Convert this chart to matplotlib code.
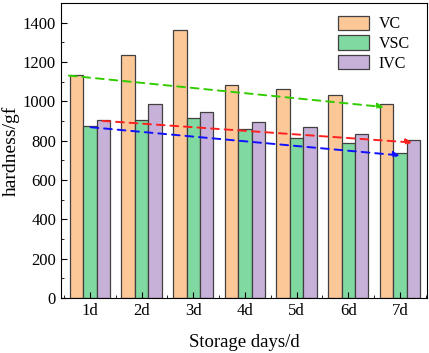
import numpy as np
import matplotlib
matplotlib.use('Agg')
import matplotlib.pyplot as plt
from matplotlib.ticker import MultipleLocator

plt.rcParams['font.family'] = ['Liberation Serif', 'DejaVu Serif']

days = ['1d', '2d', '3d', '4d', '5d', '6d', '7d']
vc = [1135, 1235, 1365, 1082, 1065, 1035, 985]
vsc = [875, 905, 918, 862, 815, 787, 738]
ivc = [907, 988, 948, 893, 868, 834, 806]

# trend arrows: (x_start, y_start, x_end, y_end) in data units
trend_vc = (0.54, 1133, 6.74, 970)
trend_ivc = (1.19, 902, 7.29, 790)
trend_vsc = (0.96, 870, 7.05, 724)

x = np.arange(1, len(days) + 1)
w = 0.26

fig = plt.figure(figsize=(4.29, 3.53), dpi=100)
ax = fig.add_axes([0.142, 0.156, 0.853, 0.835])

ec = '#404040'
ax.bar(x - w, vc, w, color='#fdc897', edgecolor=ec, linewidth=0.9, label='VC')
ax.bar(x, vsc, w, color='#80d9a0', edgecolor=ec, linewidth=0.9, label='VSC')
ax.bar(x + w, ivc, w, color='#c8b1d9', edgecolor=ec, linewidth=0.9, label='IVC')

for t, c in [(trend_vc, '#33cc00'), (trend_ivc, '#ff2020'), (trend_vsc, '#1010ff')]:
    ax.annotate('', xy=(t[2], t[3]), xytext=(t[0], t[1]),
                arrowprops=dict(arrowstyle='-|>', color=c, lw=1.4,
                                linestyle=(0, (4, 3)), mutation_scale=9))

ax.set_xlim(0.44, 7.52)
ax.set_ylim(0, 1500)
ax.set_xticks(x)
ax.set_xticklabels(days)
ax.xaxis.set_minor_locator(MultipleLocator(0.5))
ax.yaxis.set_major_locator(MultipleLocator(200))
ax.yaxis.set_minor_locator(MultipleLocator(100))
ax.tick_params(direction='in', which='both', labelsize=12)
ax.tick_params(which='major', length=4)
ax.tick_params(which='minor', length=2.5)
ax.set_xlabel('Storage days/d', fontsize=13.5, labelpad=11)
ax.set_ylabel('hardness/gf', fontsize=14, labelpad=2)

ax.legend(loc='upper left', frameon=False, fontsize=11.5, handlelength=1.95,
          handleheight=1.0, handletextpad=0.6, labelspacing=0.2,
          borderpad=0, borderaxespad=0,
          bbox_to_anchor=(0.757, 0.958))

fig.savefig('out.png', dpi=100)
